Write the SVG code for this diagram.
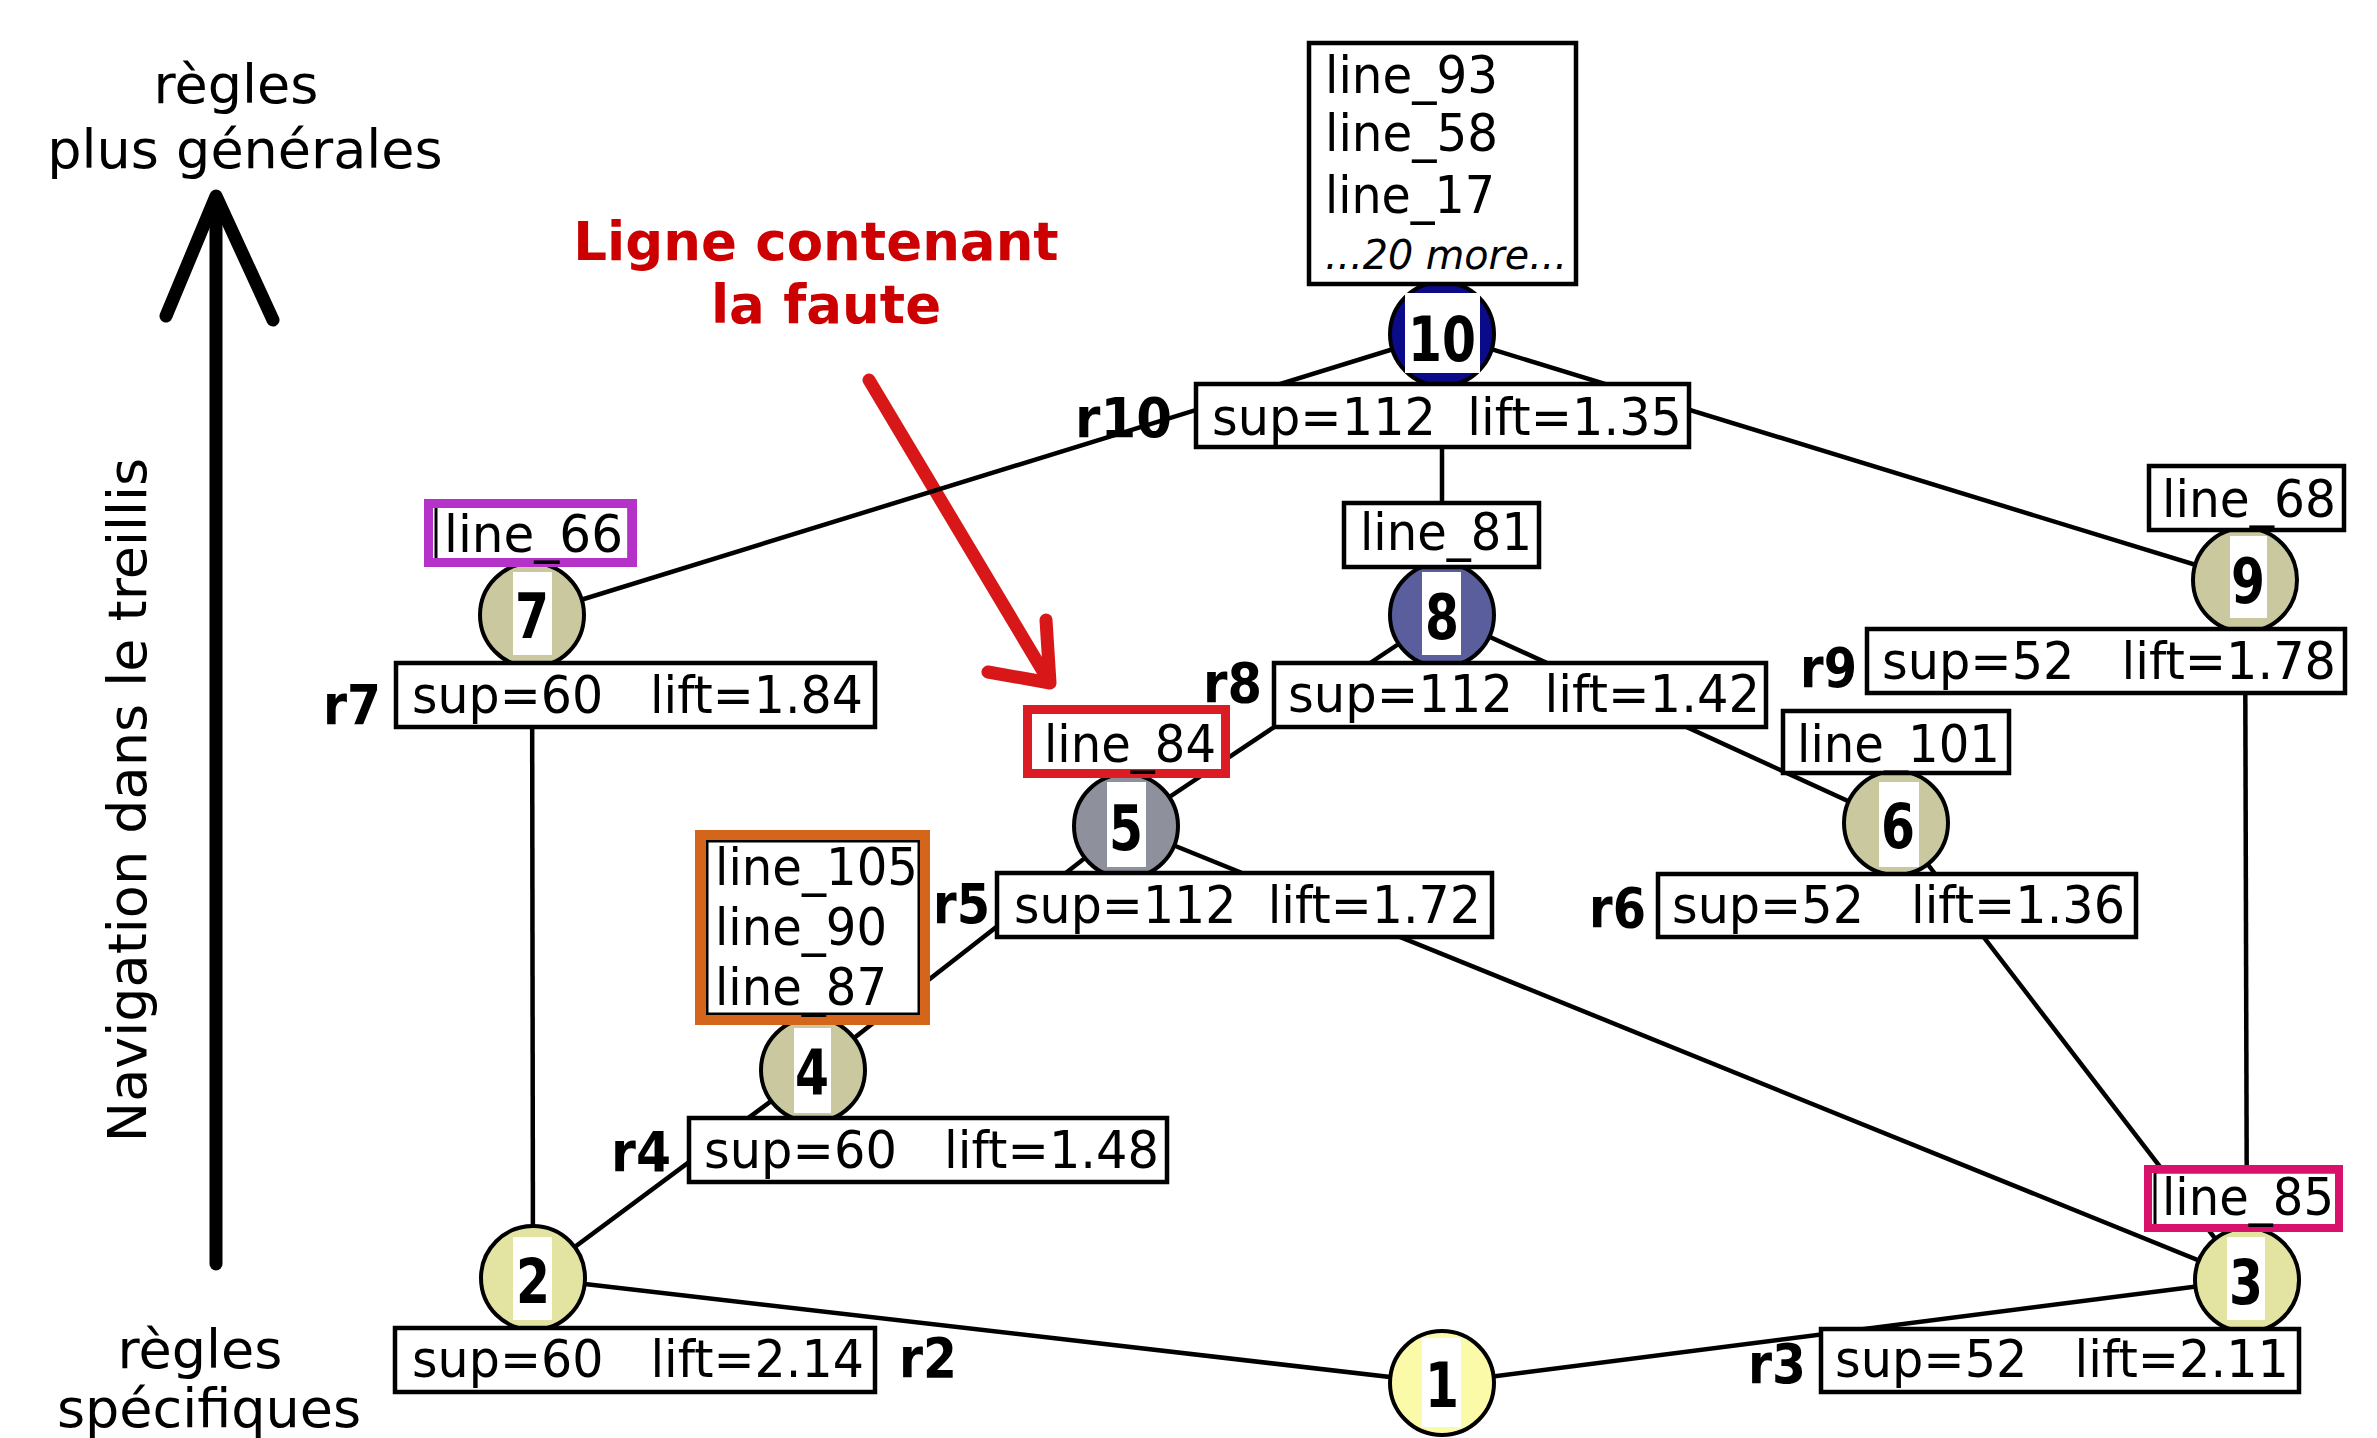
<svg xmlns="http://www.w3.org/2000/svg" width="2377" height="1438" viewBox="0 0 2377 1438">
<style>
.t{font-family:'DejaVu Sans','Liberation Sans',sans-serif;font-size:51px;fill:#000;white-space:pre}
.it{font-family:'DejaVu Sans','Liberation Sans',sans-serif;font-size:40px;font-style:italic;fill:#000}
.rl{font-family:'DejaVu Sans','Liberation Sans',sans-serif;font-size:55px;font-weight:bold;fill:#000}
.num{font-family:'DejaVu Sans','Liberation Sans',sans-serif;font-size:63px;font-weight:bold;fill:#000}
.ax{font-family:'DejaVu Sans','Liberation Sans',sans-serif;font-size:54px;fill:#000}
.red{font-family:'DejaVu Sans','Liberation Sans',sans-serif;font-size:53px;font-weight:bold;fill:#cc0000}
.box{fill:#fff;stroke:#000;stroke-width:4.5}
.inner{fill:#fff;stroke:#000;stroke-width:3}
.nd{stroke:#000;stroke-width:4}
.wr{fill:#fff}
.edge{stroke:#000;stroke-width:4.5;fill:none}
</style>

<!-- axis -->
<g id="axis">
  <text class="ax" x="236" y="103" text-anchor="middle">règles</text>
  <text class="ax" x="245" y="168" text-anchor="middle">plus générales</text>
  <g stroke="#000" stroke-width="13" stroke-linecap="round" fill="none">
    <line x1="216" y1="1264" x2="216" y2="200"/>
    <polyline points="166,316 216,196 273,320" stroke-linejoin="round"/>
  </g>
  <text class="ax" transform="translate(146,800) rotate(-90)" text-anchor="middle">Navigation dans le treillis</text>
  <text class="ax" x="200" y="1368" text-anchor="middle">règles</text>
  <text class="ax" x="209" y="1427" text-anchor="middle">spécifiques</text>
</g>

<!-- annotation -->
<g id="annotation">
  <text class="red" x="816" y="260" text-anchor="middle">Ligne contenant</text>
  <text class="red" x="826" y="323" text-anchor="middle">la faute</text>
  <g stroke="#d81818" stroke-width="13" stroke-linecap="round" stroke-linejoin="round" fill="none">
    <line x1="869" y1="380" x2="1047" y2="678"/>
    <polyline points="988,672 1050,683 1046,620"/>
  </g>
</g>

<!-- connectors -->
<g id="connectors" class="edge">
  <line x1="1442" y1="334" x2="532" y2="615"/>
  <line x1="1442" y1="334" x2="1442" y2="615"/>
  <line x1="1442" y1="334" x2="2245" y2="580"/>
  <line x1="1442" y1="615" x2="1126" y2="826"/>
  <line x1="1442" y1="615" x2="1896" y2="823"/>
  <line x1="532" y1="615" x2="533" y2="1278"/>
  <line x1="2245" y1="580" x2="2247" y2="1280"/>
  <line x1="1896" y1="823" x2="2247" y2="1280"/>
  <line x1="1126" y1="826" x2="813" y2="1070"/>
  <line x1="1126" y1="826" x2="2247" y2="1280"/>
  <line x1="813" y1="1070" x2="533" y2="1278"/>
  <line x1="533" y1="1278" x2="1442" y2="1383"/>
  <line x1="2247" y1="1280" x2="1442" y2="1383"/>
</g>

<!-- node 10 -->
<g id="node10">
  <circle class="nd" cx="1442" cy="334" r="52" fill="#0b0b8a"/>
  <rect class="wr" x="1405" y="293" width="75" height="80"/>
  <text class="num" x="1408" y="361" textLength="68" lengthAdjust="spacingAndGlyphs">10</text>
  <rect class="box" x="1309" y="43" width="267" height="241"/>
  <text class="t" x="1325" y="93" textLength="173" lengthAdjust="spacingAndGlyphs">line_93</text>
  <text class="t" x="1325" y="151" textLength="173" lengthAdjust="spacingAndGlyphs">line_58</text>
  <text class="t" x="1325" y="213" textLength="170" lengthAdjust="spacingAndGlyphs">line_17</text>
  <text class="it" x="1325" y="269" textLength="242" lengthAdjust="spacingAndGlyphs">...20 more...</text>
  <rect class="box" x="1196" y="384" width="493" height="63"/>
  <text class="t" x="1212" y="435" textLength="470" lengthAdjust="spacingAndGlyphs">sup=112  lift=1.35</text>
  <text class="rl" x="1075" y="437" textLength="97" lengthAdjust="spacingAndGlyphs">r10</text>
</g>

<!-- node 8 -->
<g id="node8">
  <circle class="nd" cx="1442" cy="615" r="52" fill="#5b5e9c"/>
  <rect class="wr" x="1422" y="572" width="39" height="83"/>
  <text class="num" x="1425" y="639" textLength="34" lengthAdjust="spacingAndGlyphs">8</text>
  <rect class="box" x="1344" y="503" width="195" height="64"/>
  <text class="t" x="1360" y="550" textLength="172" lengthAdjust="spacingAndGlyphs">line_81</text>
  <rect class="box" x="1274" y="663" width="492" height="64"/>
  <text class="t" x="1288" y="712" textLength="472" lengthAdjust="spacingAndGlyphs">sup=112  lift=1.42</text>
  <text class="rl" x="1203" y="702" textLength="59" lengthAdjust="spacingAndGlyphs">r8</text>
</g>

<!-- node 7 -->
<g id="node7">
  <circle class="nd" cx="532" cy="615" r="52" fill="#c9c89e"/>
  <rect class="wr" x="513" y="572" width="39" height="83"/>
  <text class="num" x="515" y="638" textLength="34" lengthAdjust="spacingAndGlyphs">7</text>
  <rect class="inner" x="436" y="506" width="193" height="54"/>
  <rect x="428.5" y="503.5" width="204" height="59" fill="none" stroke="#b432c8" stroke-width="9"/>
  <text class="t" x="444" y="552" textLength="179" lengthAdjust="spacingAndGlyphs">line_66</text>
  <rect class="box" x="396" y="663" width="479" height="64"/>
  <text class="t" x="412" y="713" textLength="451" lengthAdjust="spacingAndGlyphs">sup=60   lift=1.84</text>
  <text class="rl" x="323" y="724" textLength="58" lengthAdjust="spacingAndGlyphs">r7</text>
</g>

<!-- node 9 -->
<g id="node9">
  <circle class="nd" cx="2245" cy="580" r="52" fill="#c9c89e"/>
  <rect class="wr" x="2230" y="536" width="37" height="82"/>
  <text class="num" x="2231" y="603" textLength="34" lengthAdjust="spacingAndGlyphs">9</text>
  <rect class="box" x="2149" y="466" width="195" height="64"/>
  <text class="t" x="2162" y="517" textLength="174" lengthAdjust="spacingAndGlyphs">line_68</text>
  <rect class="box" x="1867" y="629" width="478" height="64"/>
  <text class="t" x="1882" y="679" textLength="454" lengthAdjust="spacingAndGlyphs">sup=52   lift=1.78</text>
  <text class="rl" x="1800" y="687" textLength="57" lengthAdjust="spacingAndGlyphs">r9</text>
</g>

<!-- node 5 -->
<g id="node5">
  <circle class="nd" cx="1126" cy="826" r="52" fill="#8e909c"/>
  <rect class="wr" x="1107" y="782" width="39" height="85"/>
  <text class="num" x="1109" y="850" textLength="34" lengthAdjust="spacingAndGlyphs">5</text>
  <rect x="1027.5" y="709.5" width="198" height="64" fill="#fff" stroke="#dc1c24" stroke-width="9"/>
  <text class="t" x="1044" y="762" textLength="172" lengthAdjust="spacingAndGlyphs">line_84</text>
  <rect class="box" x="997" y="873" width="495" height="64"/>
  <text class="t" x="1014" y="923" textLength="467" lengthAdjust="spacingAndGlyphs">sup=112  lift=1.72</text>
  <text class="rl" x="933" y="923" textLength="57" lengthAdjust="spacingAndGlyphs">r5</text>
</g>

<!-- node 6 -->
<g id="node6">
  <circle class="nd" cx="1896" cy="823" r="52" fill="#c9c89e"/>
  <rect class="wr" x="1879" y="782" width="40" height="85"/>
  <text class="num" x="1881" y="848" textLength="34" lengthAdjust="spacingAndGlyphs">6</text>
  <rect class="box" x="1783" y="711" width="226" height="62"/>
  <text class="t" x="1797" y="762" textLength="203" lengthAdjust="spacingAndGlyphs">line_101</text>
  <rect class="box" x="1658" y="874" width="478" height="63"/>
  <text class="t" x="1672" y="923" textLength="453" lengthAdjust="spacingAndGlyphs">sup=52   lift=1.36</text>
  <text class="rl" x="1589" y="927" textLength="57" lengthAdjust="spacingAndGlyphs">r6</text>
</g>

<!-- node 4 -->
<g id="node4">
  <circle class="nd" cx="813" cy="1070" r="52" fill="#c9c89e"/>
  <rect class="wr" x="794" y="1028" width="37" height="85"/>
  <text class="num" x="795" y="1094" textLength="34" lengthAdjust="spacingAndGlyphs">4</text>
  <rect class="inner" x="707" y="841" width="212" height="173"/>
  <rect x="700" y="835" width="225" height="185" fill="none" stroke="#d4661c" stroke-width="10"/>
  <text class="t" x="715" y="885" textLength="203" lengthAdjust="spacingAndGlyphs">line_105</text>
  <text class="t" x="715" y="945" textLength="172" lengthAdjust="spacingAndGlyphs">line_90</text>
  <text class="t" x="715" y="1005" textLength="172" lengthAdjust="spacingAndGlyphs">line_87</text>
  <rect class="box" x="689" y="1118" width="478" height="64"/>
  <text class="t" x="704" y="1168" textLength="455" lengthAdjust="spacingAndGlyphs">sup=60   lift=1.48</text>
  <text class="rl" x="611" y="1171" textLength="60" lengthAdjust="spacingAndGlyphs">r4</text>
</g>

<!-- node 2 -->
<g id="node2">
  <circle class="nd" cx="533" cy="1278" r="52" fill="#e3e3a2"/>
  <rect class="wr" x="513" y="1237" width="39" height="83"/>
  <text class="num" x="516" y="1303" textLength="34" lengthAdjust="spacingAndGlyphs">2</text>
  <rect class="box" x="395" y="1328" width="480" height="64"/>
  <text class="t" x="412" y="1377" textLength="452" lengthAdjust="spacingAndGlyphs">sup=60   lift=2.14</text>
  <text class="rl" x="899" y="1377" textLength="58" lengthAdjust="spacingAndGlyphs">r2</text>
</g>

<!-- node 3 -->
<g id="node3">
  <circle class="nd" cx="2247" cy="1280" r="52" fill="#e3e3a2"/>
  <rect class="wr" x="2227" y="1237" width="38" height="83"/>
  <text class="num" x="2229" y="1304" textLength="34" lengthAdjust="spacingAndGlyphs">3</text>
  <rect class="inner" x="2155" y="1172" width="182" height="54"/>
  <rect x="2148" y="1169" width="191" height="59" fill="none" stroke="#d8126a" stroke-width="8"/>
  <text class="t" x="2162" y="1215" textLength="172" lengthAdjust="spacingAndGlyphs">line_85</text>
  <rect class="box" x="1821" y="1329" width="478" height="63"/>
  <text class="t" x="1835" y="1377" textLength="454" lengthAdjust="spacingAndGlyphs">sup=52   lift=2.11</text>
  <text class="rl" x="1748" y="1383" textLength="58" lengthAdjust="spacingAndGlyphs">r3</text>
</g>

<!-- node 1 -->
<g id="node1">
  <circle class="nd" cx="1442" cy="1383" r="52" fill="#fbfaa8"/>
  <rect class="wr" x="1422" y="1338" width="39" height="89"/>
  <text class="num" x="1425" y="1407" textLength="34" lengthAdjust="spacingAndGlyphs">1</text>
</g>
</svg>
